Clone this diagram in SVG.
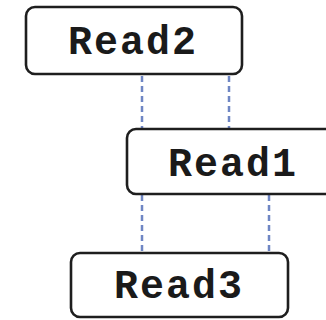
<svg xmlns="http://www.w3.org/2000/svg" width="326" height="320" viewBox="0 0 326 320">
  <style>
    .box { fill: #ffffff; stroke: #1e1e1e; stroke-width: 2.6; }
    .lbl { font-family: "Liberation Mono", "Courier New", monospace; font-weight: bold; font-size: 40px; letter-spacing: 2px; fill: #1a1a1a; text-anchor: middle; }
    .link { stroke: #6f86c4; stroke-width: 2.5; stroke-dasharray: 6 4; fill: none; }
  </style>
  <rect width="326" height="320" fill="#ffffff"/>
  <g id="connectors">
    <line class="link" x1="142" y1="76" x2="142" y2="128"/>
    <line class="link" x1="229" y1="76" x2="229" y2="128"/>
    <line class="link" x1="142" y1="195" x2="142" y2="252"/>
    <line class="link" x1="269" y1="195" x2="269" y2="252"/>
  </g>
  <g id="read2">
    <rect class="box" x="26" y="7" width="216" height="67" rx="9"/>
    <text class="lbl" x="133" y="54">Read2</text>
  </g>
  <g id="read1">
    <rect class="box" x="127" y="129" width="210" height="65" rx="9"/>
    <text class="lbl" x="233" y="176">Read1</text>
  </g>
  <g id="read3">
    <rect class="box" x="71" y="253" width="217" height="64" rx="9"/>
    <text class="lbl" x="179" y="298">Read3</text>
  </g>
</svg>
